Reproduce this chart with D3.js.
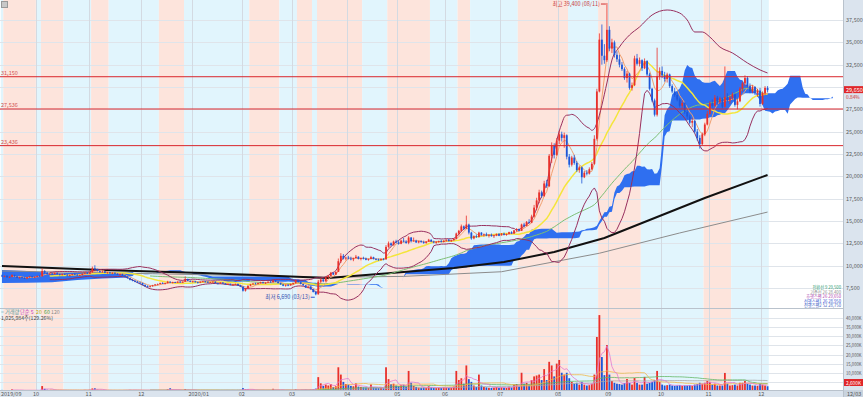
<!DOCTYPE html>
<html>
<head>
<meta charset="utf-8">
<script src="https://cdn.jsdelivr.net/npm/d3@7"></script>
<style>
  body { margin: 0; background: #fff; }
  svg { display: block; }
  text { font-family: "Noto Sans CJK KR", "Noto Sans", sans-serif; }
</style>
</head>
<body>
<svg width="863" height="397"></svg>
<script>
// daily candles per month: [open, high, low, close, volume(K)]
const sep2019 = [
  [8900,9000,8750,8800,600],[8800,8900,8700,8850,450],[8850,8950,8650,8700,500],[8700,8800,8600,8750,380],
  [8750,9050,8700,8950,900],[8950,9000,8750,8800,520],[8800,8850,8600,8650,480],[8650,8750,8550,8700,400],
  [8700,8800,8600,8650,350],[8650,8700,8500,8550,420],[8550,8750,8500,8700,460],[8700,8850,8650,8800,500],
  [8800,8850,8650,8700,380],[8700,8800,8600,8750,360]
];
const oct2019 = [
  [8750,8900,8700,8850,420],[8850,8950,8750,8800,380],[8800,9700,8800,9400,2700],[9400,9500,9100,9200,1200],
  [9200,9300,9000,9050,700],[9050,9150,8950,9100,500],[9100,9200,9000,9050,450],[9050,9250,9000,9200,600],
  [9200,9250,9000,9050,480],[9050,9100,8900,8950,420],[8950,9100,8900,9050,400],[9050,9150,8950,9000,380],
  [9000,9050,8850,8900,420],[8900,9000,8800,8950,360],[8950,9100,8900,9050,450],[9050,9150,8950,9000,380],
  [9000,9050,8850,8900,350],[8900,9000,8850,8950,330],[8950,9150,8900,9100,520],[9100,9250,9050,9200,600],
  [9200,9300,9050,9100,500]
];
const nov2019 = [
  [9100,9300,9050,9250,650],[9250,9900,9200,9700,1400],[9700,10050,9500,9600,1500],[9600,9650,9350,9400,700],
  [9400,9450,9200,9300,500],[9300,9400,9200,9350,420],[9350,9400,9150,9200,400],[9200,9300,9100,9250,380],
  [9250,9300,9100,9150,360],[9150,9250,9050,9200,350],[9200,9250,9050,9100,340],[9100,9150,8950,9000,400],
  [9000,9100,8900,9050,380],[9050,9100,8850,8900,420],[8900,8950,8700,8750,500],[8750,8800,8550,8600,550],
  [8600,8650,8350,8400,600],[8400,8500,8250,8300,520],[8300,8400,8150,8200,480],[8200,8300,8050,8100,450],
  [8100,8200,7950,8050,430]
];
const dec2019 = [
  [8050,8100,7800,7850,500],[7850,7900,7650,7700,520],[7700,7800,7550,7650,480],[7650,7750,7550,7700,400],
  [7700,7850,7650,7800,420],[7800,7950,7750,7900,450],[7900,8000,7800,7950,400],[7950,8100,7900,8050,500],
  [8050,8150,7950,8000,420],[8000,8100,7900,8050,380],[8050,8300,8000,8200,900],[8200,8250,8050,8100,1500],
  [8100,8200,8000,8150,600],[8150,8200,8050,8100,400],[8100,8250,8050,8200,420],[8200,8300,8100,8150,380],
  [8150,8250,8050,8200,350],[8200,8800,8200,8500,1100],[8500,8550,8250,8300,600],[8300,8350,8150,8200,400]
];
const jan2020 = [
  [8200,8300,8100,8250,420],[8250,8300,8100,8150,380],[8150,8200,8000,8100,360],[8100,8250,8050,8200,380],
  [8200,8300,8150,8250,400],[8250,8300,8100,8200,350],[8200,8250,8050,8100,340],[8100,8200,8050,8150,330],
  [8150,8250,8100,8200,350],[8200,8250,8000,8050,400],[8050,8100,7900,8000,420],[8000,8150,7950,8100,380],
  [8100,8150,7950,8000,360],[8000,8050,7850,7900,450],[7900,8000,7850,7950,380],[7950,8000,7800,7850,400],
  [7850,7950,7750,7900,420],[7900,8000,7800,7950,380],[7950,8000,7750,7800,450],[7800,7850,7600,7650,600]
];
const feb2020 = [
  [7650,7700,7100,7200,1600],[7200,7500,7100,7450,900],[7450,7800,7400,7750,800],[7750,7950,7700,7900,600],
  [7900,8050,7850,8000,550],[8000,8100,7900,7950,450],[7950,8100,7900,8050,420],[8050,8200,8000,8150,500],
  [8150,8200,8000,8050,400],[8050,8150,7950,8100,380],[8100,8250,8050,8200,420],[8200,8300,8100,8150,400],
  [8150,8400,8100,8350,1200],[8350,8400,8150,8200,600],[8200,8250,8000,8050,480],[8050,8100,7850,7900,500],
  [7900,7950,7700,7750,550],[7750,7900,7650,7850,480],[7850,7950,7700,7800,420],[7800,8000,7750,7950,500]
];
const mar2020 = [
  [7950,8100,7850,8050,520],[8050,8450,8000,8350,900],[8350,8400,8100,8150,600],[8150,8200,7900,7950,550],
  [7950,8000,7750,7800,500],[7800,7850,7500,7550,650],[7550,7700,7450,7650,550],[7650,7700,7300,7350,700],
  [7350,7400,7000,7050,900],[7050,7150,6690,6800,1300],[6800,8400,6750,8200,7600],[8200,8600,8000,8450,4200],
  [8450,8550,8150,8250,2800],[8250,8800,8200,8700,3500],[8700,8950,8550,8850,3000],[8850,9300,8800,9200,3800],
  [9200,9250,8950,9000,2200],[9000,9350,8950,9300,2600],[9300,10800,9300,10500,13000],[10500,11400,10300,11100,9000],
  [11100,11300,10700,10800,5000],[10800,11000,10600,10900,3800]
];
const apr2020 = [
  [10900,11100,10700,10800,3500],[10800,11000,10600,10700,2800],[10700,10900,10500,10850,2600],[10850,11200,10800,11000,4200],
  [11000,11050,10700,10750,2400],[10750,10900,10600,10850,2200],[10850,11000,10700,10800,2000],[10800,10900,10600,10650,1900],
  [10650,10800,10550,10750,1800],[10750,11100,10700,10950,3600],[10950,11000,10700,10750,2000],[10750,10850,10600,10700,1700],
  [10700,10800,10550,10650,1600],[10650,10800,10550,10750,1700],[10750,10850,10600,10700,1500],[10700,12300,10700,12100,13000],
  [12100,12700,12000,12500,6500],[12500,12600,12200,12300,3800],[12300,12800,12250,12700,4000],[12700,12900,12500,12600,3000]
];
const may2020 = [
  [12600,12800,12350,12450,2600],[12450,12900,12400,12800,3200],[12800,13100,12600,12700,3400],[12700,12850,12450,12550,2400],
  [12550,13300,12400,13150,11000],[13150,13200,12600,12750,4500],[12750,13150,12700,12800,2800],[12800,12900,12550,12600,2200],
  [12600,12800,12500,12750,1900],[12750,12850,12550,12650,1800],[12650,12800,12450,12550,1900],[12550,12750,12450,12700,1700],
  [12700,13000,12650,12900,2600],[12900,12950,12650,12700,2000],[12700,12800,12500,12600,1700],[12600,12750,12450,12650,1600],
  [12650,12800,12550,12750,1800],[12750,12900,12600,12650,1700],[12650,12850,12600,12800,2000]
];
const jun2020 = [
  [12800,12950,12700,12900,1900],[12900,13000,12700,12750,1700],[12750,12900,12650,12850,1800],[12850,13050,12800,13000,2400],
  [13000,13700,12950,13600,11000],[13600,14000,13400,13900,6000],[13900,14600,13800,14400,7000],[14400,14500,14000,14150,4000],
  [14150,15600,14100,14600,14000],[14600,14700,13500,13700,6500],[13700,13800,12900,13050,5000],[13050,13400,12950,13300,3000],
  [13300,13500,13100,13200,2200],[13200,13800,13150,13700,9000],[13700,13750,13350,13450,3000],[13450,13600,13250,13500,2200],
  [13500,13700,13300,13350,2000],[13350,13500,13150,13450,1800],[13450,13600,13250,13300,1700],[13300,13450,13100,13400,1800],
  [13400,13600,13300,13550,2200],[13550,13650,13300,13350,1800]
];
const jul2020 = [
  [13450,13650,13350,13600,2000],[13600,13700,13400,13450,1800],[13450,13600,13350,13550,1700],[13550,13800,13500,13750,2400],
  [13750,13850,13550,13600,2000],[13600,14000,13550,13950,3500],[13950,14200,13800,14100,3800],[14100,14150,13850,13900,2500],
  [13900,14700,13900,14600,10000],[14600,14800,14300,14450,4000],[14450,15000,14400,14900,4500],[14900,15200,14700,14800,3500],
  [14800,15700,14750,15500,6000],[15500,16800,15400,16500,8000],[16500,17600,16200,17300,8500],[17300,18500,17000,18200,9000],
  [18200,18400,17600,17800,6000],[17800,19500,17700,19200,12000],[19200,19600,18700,18900,6000],[18900,22500,18800,22300,16000],
  [22300,23800,21500,23400,14000],[23400,23700,22000,22400,8000],[22400,24300,22300,24000,15000]
];
const aug2020 = [
  [24000,25100,23600,24700,17000],[24700,25000,23900,24300,10000],[24300,24900,23200,24600,9000],[24600,24700,21900,22200,10000],
  [22200,22500,21000,21300,7000],[21300,22300,21100,22100,5000],[22100,22400,21300,21500,4000],[21500,21700,20500,20700,4500],
  [20700,21200,20400,21000,3500],[21000,21100,19200,19900,5000],[19900,20600,19800,20400,3500],[20400,20700,20100,20300,3000],
  [20300,21000,20200,20800,3200],[20800,21600,20700,21400,4000],[21400,24600,21300,24200,9000],[24200,29800,24000,29500,29600],
  [29500,36000,29400,35300,41600],[35300,37000,32500,33500,18600],[33500,34800,32600,33000,8700],[33000,39400,32800,36400,25200]
];
const sep2020 = [
  [36400,36800,34000,34300,9000],[34300,35400,33800,35000,5500],[35000,35200,33300,33600,4500],[33600,34000,32800,33100,4000],
  [33100,33600,32200,32500,3800],[32500,32800,31800,32000,3500],[32000,32200,30800,31000,4400],[31000,31800,30500,31500,6600],
  [31500,31600,29700,29900,4400],[29900,30500,29600,30200,3500],[30200,33500,30100,33200,7100],[33200,33700,32400,32600,4500],
  [32600,33300,32300,33000,3500],[33000,33100,31800,32100,3500],[32100,33200,32000,32900,7700],[32900,33000,31200,31400,4000],
  [31400,31600,29600,29800,4500],[29800,29900,28300,28500,5000],[28500,28700,26700,26900,6000],[26900,34400,26700,31200,11000],
  [31200,32200,30800,31800,5000]
];
const oct2020 = [
  [31800,32300,31000,31300,3500],[31300,31700,30600,30900,3000],[30900,31600,30500,31400,3200],[31400,31500,29900,30100,3500],
  [30100,30300,29300,29500,3000],[29500,29900,28900,29100,2800],[29100,29400,28400,28600,3000],[28600,28800,27700,27900,3200],
  [27900,28500,27600,28200,2800],[28200,28300,27000,27200,3000],[27200,27500,26400,26700,3000],[26700,26900,25800,26000,3200],
  [26000,26500,25500,26200,2800],[26200,26300,24800,25000,3500],[25000,25300,24000,24300,3800],[24300,24600,23100,23600,4500],
  [23600,24900,23500,24700,4000],[24700,26000,24500,25800,4500],[25800,27300,25700,27000,5500]
];
const nov2020 = [
  [27000,28400,26900,28200,5000],[28200,28600,27700,27900,3500],[27900,29100,27800,28800,4000],[28800,29000,28000,28300,3000],
  [28300,28900,28100,28700,3000],[28700,28800,27600,27800,3000],[27800,32300,27700,28900,9900],[28900,29300,28300,28500,4000],
  [28500,29000,28100,28800,3000],[28800,29400,28600,29200,3200],[29200,29300,27800,28000,3500],[28000,28600,27500,28400,3000],
  [28400,30000,28300,29800,4500],[29800,30600,29500,30400,4500],[30400,31300,30100,31000,5500],[31000,31200,29900,30100,4000],
  [30100,30400,29300,29500,3500],[29500,30200,29300,30000,3000],[30000,30100,29100,29300,3000],[29300,29800,28900,29600,2800],
  [29600,29900,27800,28100,4000]
];
const dec2020 = [
  [28100,29500,28000,29300,3500],[29300,30100,29100,29900,3000],[29900,30100,29400,29650,2600]
];

const monthLabels = ['2019/09','10','11','12','2020/01','02','03','04','05','06','07','08','09','10','11','12'];
const monthData = [sep2019, oct2019, nov2019, dec2019, jan2020, feb2020, mar2020, apr2020,
                   may2020, jun2020, jul2020, aug2020, sep2020, oct2020, nov2020, dec2020];

// long moving averages (trading-day index, price)
const ma120Idx = [0, 40, 80, 120, 130, 160, 180, 200, 220, 240, 260, 280, 305];
const ma120Val = [9950, 9520, 9180, 8730, 8620, 9290, 9740, 10410, 11530, 13100, 15340, 17580, 20150];
const ma240Idx = [0, 60, 130, 160, 199, 238, 270, 305];
const ma240Val = [9400, 9100, 8700, 8800, 9320, 11390, 13660, 16000];

// upper band after the August jump
const bandUpIdx = [237, 241, 243, 246, 250, 254, 259, 265, 270, 273, 276, 279, 282, 286, 291, 297, 302, 305];
const bandUpVal = [25970, 30450, 33020, 34480, 35820, 36720, 38060, 38620, 38280, 37500, 36160, 36160, 35600, 34480, 33810, 32690, 31910, 31570];

// cloud over the first weeks
const earlyCloudIdx = [0, 10, 20, 30, 40, 48, 52];
const earlySpanA = [9515, 9400, 9180, 9180, 9250, 9200, 9300];
const earlySpanB = [8060, 8100, 8150, 8400, 8550, 8650, 8850];

// background shading: start index of each band, alternating blue / pink
const bandStarts = [0,1,14,16,25,36,43,63,73,99,111,118,124,126,144,154,171,182,187,206,226,238,255,280,291];

// support / resistance lines
const levelLines = [31150, 27536, 23436];

const priceTicks = [7500,10000,12500,15000,17500,20000,22500,25000,27500,30000,32500,35000,37500];
const volumeTicks = [5000,10000,15000,20000,25000,30000,35000,40000];
const highDate = '08/11';
const lowDate = '03/13';

// ---------------------------------------------------------------
const days = [];
const monthStart = [];
monthData.forEach(rows => {
  monthStart.push(days.length);
  rows.forEach(r => days.push({ o: r[0], h: r[1], l: r[2], c: r[3], v: r[4] }));
});
const N = days.length;
days.forEach((d, i) => d.i = i);

const svg = d3.select('svg');
const plotRight = 843;
const fmt = d3.format(',');

const x = d3.scaleLinear().domain([0, N - 1]).range([2, 2 + (N - 1) * 2.51]);
const y = d3.scaleLinear().domain([7500, 37500]).range([288, 20]);
const yv = d3.scaleLinear().domain([0, 40000]).range([391, 318]);
const half = 2.51 / 2;

const defs = svg.append('defs');
defs.append('clipPath').attr('id', 'priceClip')
  .append('rect').attr('x', 0).attr('y', 0).attr('width', plotRight).attr('height', 308);
defs.append('clipPath').attr('id', 'volClip')
  .append('rect').attr('x', 0).attr('y', 308).attr('width', plotRight).attr('height', 82);

// bands
const bands = bandStarts.map((s, k) => ({ s, e: k + 1 < bandStarts.length ? bandStarts[k + 1] : N, pink: k % 2 === 1 }));
svg.append('g').selectAll('rect').data(bands).enter().append('rect')
  .attr('x', d => Math.max(0, x(d.s) - half))
  .attr('width', d => x(d.e) - half - Math.max(0, x(d.s) - half))
  .attr('y', 0).attr('height', 390)
  .attr('fill', d => d.pink ? '#fde4dc' : '#e1f5fd');

// grid
const grid = svg.append('g').attr('stroke', '#dfe4ea').attr('stroke-width', 1);
priceTicks.forEach(t => grid.append('line').attr('x1', 0).attr('x2', plotRight)
  .attr('y1', Math.round(y(t)) + 0.5).attr('y2', Math.round(y(t)) + 0.5));
volumeTicks.forEach(t => grid.append('line').attr('x1', 0).attr('x2', plotRight)
  .attr('y1', Math.round(yv(t)) + 0.5).attr('y2', Math.round(yv(t)) + 0.5));
monthStart.slice(1).forEach(s => grid.append('line')
  .attr('x1', Math.round(x(s) - half) + 0.5).attr('x2', Math.round(x(s) - half) + 0.5)
  .attr('y1', 0).attr('y2', 390).attr('stroke', '#d3dae2'));

// indicators
const closes = days.map(d => d.c);
const sma = (arr, n) => arr.map((_, i) => i < n - 1 ? null : d3.mean(arr.slice(i - n + 1, i + 1)));
const midRange = (i, n) => {
  const w = days.slice(Math.max(0, i - n + 1), i + 1);
  return (d3.max(w, d => d.h) + d3.min(w, d => d.l)) / 2;
};
const ma5 = sma(closes, 5), ma20 = sma(closes, 20), ma60 = sma(closes, 60);
const bb = closes.map((_, i) => {
  if (i < 19) return null;
  const w = closes.slice(i - 19, i + 1);
  const m = d3.mean(w);
  const sd = Math.sqrt(d3.mean(w, v => (v - m) * (v - m)));
  return { up: m + 2 * sd, dn: m - 2 * sd };
});
const tenkan = days.map((_, i) => midRange(i, 9));
const kijun = days.map((_, i) => midRange(i, 26));

const cloud = earlyCloudIdx.map((i, k) => ({ i, a: earlySpanA[k], b: earlySpanB[k] }));
const firstComputed = earlyCloudIdx[earlyCloudIdx.length - 1] - 25;
for (let i = firstComputed; i < N; i++) {
  cloud.push({ i: i + 26, a: (tenkan[i] + kijun[i]) / 2, b: midRange(i, 52) });
}

const pricePlot = svg.append('g').attr('clip-path', 'url(#priceClip)');

pricePlot.append('path').datum(cloud)
  .attr('d', d3.area().x(d => x(d.i)).y0(d => y(d.a)).y1(d => y(d.b)))
  .attr('fill', '#2f6ff0');

const lineOf = arr => d3.line().defined(d => d != null).x((d, i) => x(i)).y(d => y(d))(arr);
const sampled = (idx, val) => d3.line().x((d, k) => x(idx[k])).y(d => y(d))(val);

pricePlot.append('path').attr('d', sampled(ma240Idx, ma240Val))
  .attr('fill', 'none').attr('stroke', '#8c8c8c').attr('stroke-width', 1);
pricePlot.append('path').attr('d', sampled(ma120Idx, ma120Val))
  .attr('fill', 'none').attr('stroke', '#111').attr('stroke-width', 2);
pricePlot.append('path').attr('d', lineOf(ma60))
  .attr('fill', 'none').attr('stroke', '#7cbf74').attr('stroke-width', 1);
pricePlot.append('path').attr('d', lineOf(ma20))
  .attr('fill', 'none').attr('stroke', '#f4e53c').attr('stroke-width', 1.5);
pricePlot.append('path').attr('d', lineOf(ma5))
  .attr('fill', 'none').attr('stroke', '#f0a070').attr('stroke-width', 1);

const upperPts = bb.map((b, i) => b && i < bandUpIdx[0] ? [x(i), y(b.up)] : null).filter(p => p)
  .concat(bandUpIdx.map((i, k) => [x(i), y(bandUpVal[k])]));
pricePlot.append('path').attr('d', d3.line().curve(d3.curveMonotoneX)(upperPts))
  .attr('fill', 'none').attr('stroke', '#98305f').attr('stroke-width', 1);
pricePlot.append('path').attr('d', lineOf(bb.map(b => b && b.dn)))
  .attr('fill', 'none').attr('stroke', '#98305f').attr('stroke-width', 1);

// candles
const up = d => d.c >= d.o;
const candle = pricePlot.append('g').selectAll('g').data(days).enter().append('g');
candle.append('line')
  .attr('x1', d => x(d.i)).attr('x2', d => x(d.i))
  .attr('y1', d => y(d.h)).attr('y2', d => y(d.l))
  .attr('stroke', d => up(d) ? '#e8302b' : '#1d56d8').attr('stroke-width', 0.8);
candle.append('rect')
  .attr('x', d => x(d.i) - 0.9).attr('width', 1.8)
  .attr('y', d => y(Math.max(d.o, d.c)))
  .attr('height', d => Math.max(0.8, Math.abs(y(d.o) - y(d.c))))
  .attr('fill', d => up(d) ? '#e8302b' : '#1d56d8');

// level lines
levelLines.forEach(v => {
  svg.append('line').attr('x1', 0).attr('x2', plotRight)
    .attr('y1', y(v)).attr('y2', y(v)).attr('stroke', '#d9262c').attr('stroke-width', 1);
  svg.append('text').attr('x', 1).attr('y', y(v) - 2).text(fmt(v))
    .attr('font-size', 5.5).attr('fill', '#d05050');
});

// high / low markers
const hiI = d3.maxIndex(days, d => d.h), loI = d3.minIndex(days, d => d.l);
svg.append('text').attr('x', x(hiI) - 7).attr('y', y(days[hiI].h) + 3)
  .attr('text-anchor', 'end').attr('font-size', 5.5).attr('fill', '#c84040')
  .text(`최고 ${fmt(days[hiI].h)} (${highDate})`);
svg.append('line').attr('x1', x(hiI) - 6).attr('x2', x(hiI) - 1)
  .attr('y1', y(days[hiI].h) + 1).attr('y2', y(days[hiI].h) + 1).attr('stroke', '#d03030');
svg.append('text').attr('x', x(loI) - 6).attr('y', y(days[loI].l) + 4)
  .attr('text-anchor', 'end').attr('font-size', 5.5).attr('fill', '#3050b0')
  .text(`최저 ${fmt(days[loI].l)} (${lowDate})`);
svg.append('line').attr('x1', x(loI) - 5).attr('x2', x(loI) - 1)
  .attr('y1', y(days[loI].l) + 2).attr('y2', y(days[loI].l) + 2).attr('stroke', '#3050d0');

// volume panel
const volPlot = svg.append('g').attr('clip-path', 'url(#volClip)');
volPlot.append('g').selectAll('rect').data(days).enter().append('rect')
  .attr('x', d => x(d.i) - 0.9).attr('width', 1.8)
  .attr('y', d => yv(d.v)).attr('height', d => yv(0) - yv(d.v))
  .attr('fill', d => up(d) ? '#e8302b' : '#1d56d8');
const vols = days.map(d => d.v);
const vLine = arr => d3.line().defined(d => d != null).x((d, i) => x(i)).y(d => yv(d))(arr);
[[120, '#a8a8a8'], [60, '#66b866'], [20, '#f0b848'], [5, '#e27ad0']].forEach(([n, col]) => {
  volPlot.append('path').attr('d', vLine(sma(vols, n)))
    .attr('fill', 'none').attr('stroke', col).attr('stroke-width', 0.8);
});

// separators and axis panels
svg.append('line').attr('x1', 0).attr('x2', plotRight).attr('y1', 308.5).attr('y2', 308.5).attr('stroke', '#b9c2cc');
svg.append('rect').attr('x', plotRight).attr('y', 0).attr('width', 863 - plotRight).attr('height', 397).attr('fill', '#dbe4ee');
svg.append('rect').attr('x', 0).attr('y', 390).attr('width', plotRight).attr('height', 7).attr('fill', '#dbe4ee');
svg.append('line').attr('x1', plotRight + 0.5).attr('x2', plotRight + 0.5).attr('y1', 0).attr('y2', 397).attr('stroke', '#b9c2cc');
svg.append('line').attr('x1', 0).attr('x2', plotRight).attr('y1', 390.5).attr('y2', 390.5).attr('stroke', '#b9c2cc');

const last = days[N - 1], prev = days[N - 2];
const axisTxt = svg.append('g').attr('font-size', 5.5).attr('fill', '#5a5a5a');
priceTicks.filter(t => Math.abs(y(t) - y(last.c)) > 6).forEach(t =>
  axisTxt.append('text').attr('x', 846).attr('y', y(t) + 2).text(fmt(t)));
volumeTicks.filter(t => Math.abs(yv(t) - 382.5) > 5).forEach(t =>
  axisTxt.append('text').attr('x', 846).attr('y', yv(t) + 2).attr('font-size', 5)
    .attr('textLength', 15.5).attr('lengthAdjust', 'spacingAndGlyphs').text(fmt(t) + 'K'));

monthLabels.forEach((lab, k) => {
  const px = k === 0 ? 1 : x(monthStart[k]) - half - 3;
  axisTxt.append('text').attr('x', px).attr('y', 396).text(lab);
});

// current price / volume boxes
svg.append('rect').attr('x', 844).attr('y', y(last.c) - 4).attr('width', 19).attr('height', 7).attr('fill', '#e0262a');
svg.append('text').attr('x', 846).attr('y', y(last.c) + 1.8).attr('font-size', 5.5).attr('fill', '#fff').text(fmt(last.c));
svg.append('text').attr('x', 846).attr('y', y(last.c) + 8.5).attr('font-size', 4.8).attr('fill', '#d03030')
  .text(d3.format('.2f')(Math.abs((last.c - prev.c) / prev.c * 100)) + '%');
svg.append('rect').attr('x', 844).attr('y', 379).attr('width', 19).attr('height', 7).attr('fill', '#e0262a');
svg.append('text').attr('x', 846).attr('y', 384.5).attr('font-size', 5).attr('fill', '#fff')
  .attr('textLength', 15).attr('lengthAdjust', 'spacingAndGlyphs').text(fmt(last.v) + 'K');
svg.append('rect').attr('x', 844).attr('y', 390).attr('width', 19).attr('height', 7).attr('fill', '#c9d3de');
svg.append('text').attr('x', 847).attr('y', 396).attr('font-size', 5.5).attr('fill', '#555').text('12/03');

// top-left icon
svg.append('rect').attr('x', 1.5).attr('y', 1.5).attr('width', 6).attr('height', 6)
  .attr('fill', '#c8c8c8').attr('stroke', '#999');

// volume legend
const vl = svg.append('g').attr('font-size', 5.2);
const legendItems = [['= 거래량', '#4f9a9a', 1], ['단순 5', '#c040c0', 20], ['20', '#d9a000', 36], ['60', '#3fa040', 44], ['120', '#8a8a8a', 51]];
legendItems.forEach(([t, c, px]) => vl.append('text').attr('x', px).attr('y', 314).attr('fill', c).text(t));
vl.append('text').attr('x', 1).attr('y', 320).attr('fill', '#444').text('1,025,984주(129.26%)');

// ichimoku legend
const il = svg.append('g').attr('font-size', 4.2).attr('text-anchor', 'end');
const ichi = [
  [`전환선 9  ${fmt(tenkan[N - 1])}`, '#2a9a70'],
  [`기준선 26  ${fmt(kijun[N - 1])}`, '#8a8a8a'],
  [`후행스팬 26  ${fmt(last.c)}`, '#b040b0'],
  [`선행스팬1 26  ${fmt(cloud[cloud.length - 1].a)}`, '#3050d0'],
  [`선행스팬2 52  ${fmt(cloud[cloud.length - 1].b)}`, '#4060c0']
];
ichi.forEach(([t, c], k) => il.append('text').attr('x', 841).attr('y', 289 + k * 4.5).attr('fill', c).text(t));
</script>
</body>
</html>
